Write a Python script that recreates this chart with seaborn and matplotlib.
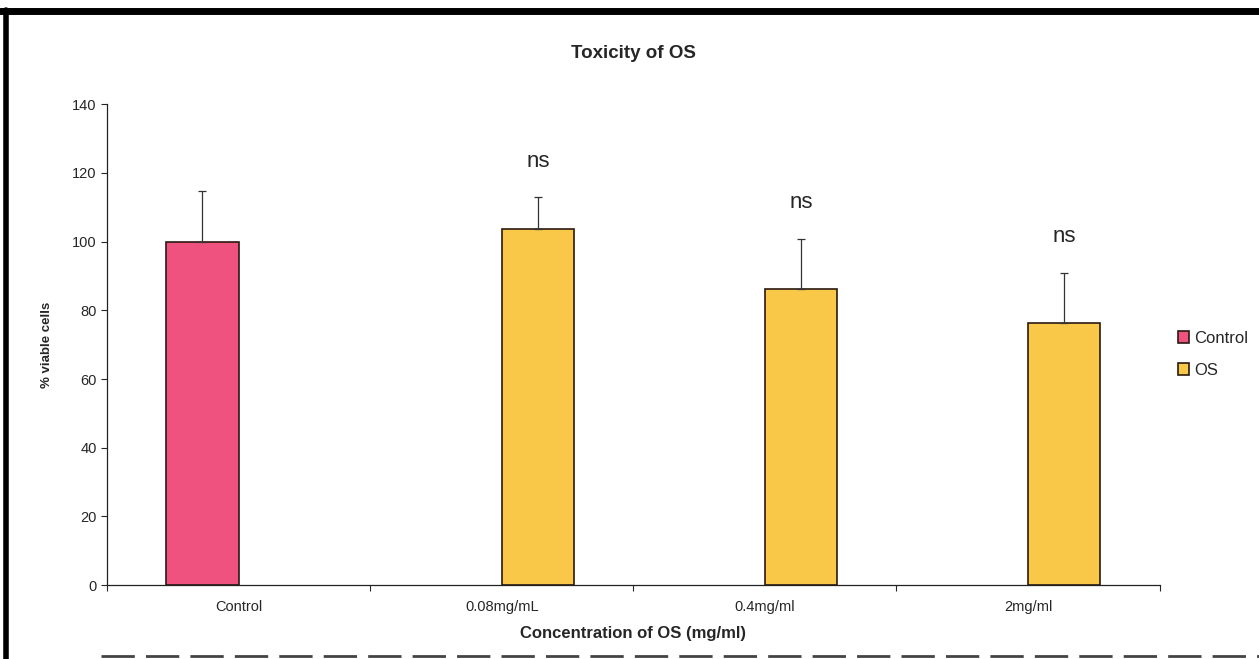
import pandas as pd
import matplotlib.pyplot as plt
import seaborn as sns
from matplotlib.lines import Line2D

# values
categories = ["Control", "0.08mg/mL", "0.4mg/ml", "2mg/ml"]
groups = ["Control", "OS", "OS", "OS"]
viable = [100.0, 103.6, 86.2, 76.4]
sd = [14.7, 9.3, 14.6, 14.5]
signif = ["", "ns", "ns", "ns"]

df = pd.DataFrame({"conc": categories, "group": groups, "viable": viable})

sns.set_style("white")
plt.rcParams["font.family"] = ["Liberation Sans", "DejaVu Sans"]

fig = plt.figure(figsize=(12.59, 6.59), dpi=100)
ax = fig.add_axes([0.085, 0.112, 0.836, 0.730])

sns.barplot(
    data=df, x="conc", y="viable", hue="group",
    order=categories, hue_order=["Control", "OS"],
    palette={"Control": "#F0527F", "OS": "#F9C848"},
    width=0.55, dodge=True, errorbar=None,
    edgecolor="#2a1a10", linewidth=1.2, saturation=1, ax=ax,
)

# upper-only error bars + ns labels, placed on the drawn bars
bars = [p for p in ax.patches if p.get_height() > 0]
bars.sort(key=lambda p: p.get_x())
for p, e, s in zip(bars, sd, signif):
    cx = p.get_x() + p.get_width() / 2
    h = p.get_height()
    ax.errorbar(cx, h, yerr=[[0], [e]], fmt="none", ecolor="#333333",
                elinewidth=0.9, capsize=3, capthick=0.9)
    if s:
        ax.text(cx, h + e + 10.5, s, ha="center", va="center", fontsize=16)

ax.set_ylim(0, 140)
ax.set_yticks(range(0, 141, 20))
ax.set_xlim(-0.5, len(categories) - 0.5)
ax.set_xticks(range(len(categories)))
ax.set_xticks([i + 0.5 for i in range(-1, len(categories))], minor=True)
ax.tick_params(axis="x", which="major", length=0, labelsize=10.5, pad=11)
ax.tick_params(axis="x", which="minor", length=4, width=0.8, direction="out", bottom=True)
ax.tick_params(axis="y", length=4, width=0.8, direction="out", left=True, labelsize=10.5)

sns.despine(ax=ax)
for s in ["left", "bottom"]:
    ax.spines[s].set_color("#222222")
    ax.spines[s].set_linewidth(0.9)

ax.set_title("Toxicity of OS", fontsize=13.5, fontweight="bold", pad=33)
ax.set_xlabel("Concentration of OS (mg/ml)", fontsize=12, fontweight="bold", labelpad=8)
ax.set_ylabel("% viable cells", fontsize=9.5, fontweight="bold", labelpad=14)

ax.legend(loc="center left", bbox_to_anchor=(1.003, 0.48), frameon=False,
          fontsize=12, handlelength=0.7, handleheight=0.7, handletextpad=0.3,
          labelspacing=1.0)

# scanned page frame
fig.add_artist(Line2D([0.0, 1.0], [0.983, 0.983], color="black", lw=5, transform=fig.transFigure))
fig.add_artist(Line2D([0.005, 0.005], [0.0, 0.985], color="black", lw=4, transform=fig.transFigure))
fig.add_artist(Line2D([0.08, 1.0], [0.004, 0.004], color="#444444", lw=2, ls=(0, (12, 4)), transform=fig.transFigure))

fig.savefig("out.png", dpi=100)
